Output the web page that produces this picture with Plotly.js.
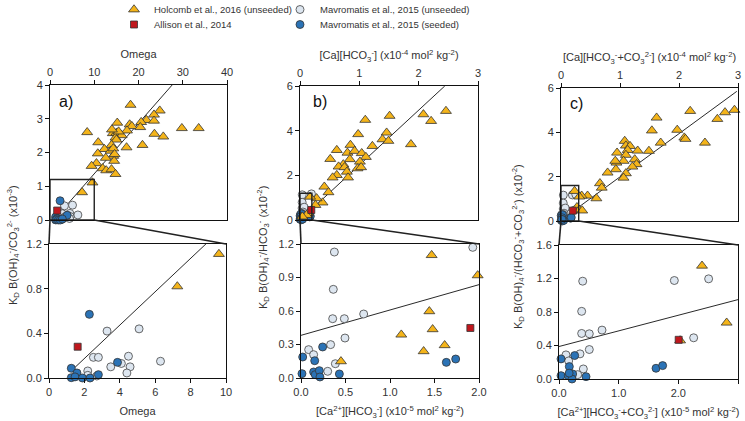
<!DOCTYPE html>
<html>
<head>
<meta charset="utf-8">
<script src="https://cdn.plot.ly/plotly-3.0.1.min.js"></script>
<style>
  html, body { margin: 0; padding: 0; background: #fff; }
  #chart { width: 745px; height: 421px; }
</style>
</head>
<body>
<div id="chart"></div>
<script>
// ---- a) Omega panel (same units top and bottom) ----
let holA_x = [18.2,24.8,23.5,21.8,23.5,20.6,15.2,18.0,18.5,20.4,29.8,33.6,8.4,14.2,15.0,16.2,17.4,14.8,23.6,25.6,15.0,10.9,13.9,17.3,20.9,12.3,13.7,14.3,10.8,14.3,12.6,14.5,10.5,14.6,9.4,11.9,12.7,13.9,14.8,15.5,14.0,9.6,7.25];
let holA_y = [3.41,3.24,3.12,2.96,2.94,2.90,2.88,2.83,2.78,2.75,2.72,2.72,2.60,2.57,2.58,2.51,2.65,2.44,2.55,2.47,2.38,2.30,2.22,2.15,2.22,2.10,2.05,2.12,1.97,1.90,1.84,1.75,1.68,1.95,1.60,1.53,1.47,1.50,1.36,2.62,2.68,1.11,0.82];
let mavUnA_x = [3.28,5.09,2.51,2.79,4.49,3.49,4.09,4.58,4.40,6.30,2.19,2.19,2.70];
let mavUnA_y = [0.42,0.44,0.185,0.185,0.195,0.10,0.13,0.10,0.045,0.15,0.063,0.024,0.018];
let mavSeA_x = [2.28,3.87,1.26,1.58,1.26,1.47,1.89,2.32,2.79];
let mavSeA_y = [0.57,0.14,0.087,0.045,0.003,0.01,0.0,0.0,0.03];
let allA_x = [1.62];
let allA_y = [0.28];
let fitA_x = [1.3, 27.6];
let fitA_y = [0.07, 4.0];

// ---- b) [Ca][HCO3-] panel: top x10^-4, bottom x10^-5 ----
let holB_x = [2.46,2.08,2.21,1.51,1.10,1.46,0.98,1.39,1.49,1.87,1.22,0.62,0.85,0.80,0.92,1.04,1.11,0.84,0.51,1.01,0.73,0.65,0.75,0.97,1.03,0.79,0.62,0.81,0.55,0.41,0.48,0.38,0.28,0.17,0.26,0.14,0.11,0.04];
let holB_y = [4.88,4.73,4.43,4.66,4.48,3.91,3.84,3.61,3.54,3.39,3.31,3.13,3.36,3.01,3.09,2.99,2.82,2.72,2.73,2.61,2.49,2.39,2.36,2.31,2.36,2.16,2.01,1.90,1.90,1.49,1.24,0.78,0.97,1.04,0.67,0.30,0.22,0.15];
let holBz_x = [0.449,1.468,1.985,1.442,1.479,1.127,1.378,1.614];
let holBz_y = [0.149,1.10,0.919,0.597,0.436,0.388,0.239,0.293];
let mavUnB_x = [0.375,0.363,0.356,0.487,0.704,0.494,0.333,0.086,0.142,0.386,0.30,1.93];
let mavUnB_y = [1.128,0.794,0.531,0.531,0.573,0.358,0.299,0.254,0.209,0.128,0.06,1.17];
let mavSeB_x = [0.019,0.243,0.154,0.011,0.142,0.16,0.206,0.213,0.431,1.633,1.738];
let mavSeB_y = [0.188,0.278,0.155,0.039,0.054,0.03,0.066,0.009,0.036,0.140,0.170];
let allB_x = [1.903];
let allB_y = [0.448];
let fitB_x = [0, 2.44];
let fitB_y = [0, 6.0];
let fitBz_x = [0, 2];
let fitBz_y = [0.382, 0.836];

// ---- c) [Ca][HCO3- + CO3 2-] panel ----
let holC_x = [2.94,2.78,2.65,2.19,1.62,1.54,1.97,2.09,2.11,2.44,1.69,1.49,1.08,1.10,1.17,1.13,1.30,0.95,1.10,1.25,1.06,0.94,0.92,1.28,1.21,0.93,0.79,1.10,1.06,0.66,0.69,0.60,0.45,0.35,0.23,0.31,0.27,0.31,0.36];
let holC_y = [5.01,4.90,4.60,4.96,4.66,4.08,4.11,3.76,3.70,3.53,3.53,3.16,3.61,3.40,3.38,3.20,3.17,3.08,2.98,2.78,2.71,2.63,2.71,2.56,2.45,2.33,2.18,2.15,1.95,1.70,1.50,1.02,1.14,1.14,1.35,1.10,0.62,0.50,0.47];
let holCz_x = [2.397,2.81,2.03];
let holCz_y = [1.352,0.672,0.46];
let mavUnC_x = [0.397,0.380,0.380,0.508,0.721,0.508,0.352,0.117,0.162,0.408,0.313,1.933,2.508,2.257];
let mavUnC_y = [1.168,0.808,0.544,0.54,0.584,0.352,0.30,0.288,0.216,0.12,0.052,1.176,1.196,0.492];
let mavSeC_x = [0.034,0.263,0.173,0.034,0.156,0.229,0.218,0.453,1.626,1.737,0.17];
let mavSeC_y = [0.24,0.28,0.148,0.04,0.04,0.06,0.0,0.028,0.128,0.16,0.07];
let allC_x = [2.006];
let allC_y = [0.468];
let fitC_x = [0.04, 2.98];
let fitC_y = [0.12, 5.85];
let fitCz_x = [0, 3];
let fitCz_y = [0.388, 0.948];

const W = 745, H = 421;
function px(x){ return x / W; }
function py(y){ return 1 - y / H; }
// bottom plots are in x10^-5, top plots in x10^-4
function toTop(arr){ return arr.map(v => v / 10); }

const FONT = 'Liberation Sans, Arial, sans-serif';
const TXT = '#333333';

let tri = {symbol: 'triangle-up', size: 9.5, color: '#F4B41A', line: {color: '#333', width: 0.8}};
let sq  = {symbol: 'square', size: 7, color: '#C0171D', line: {color: '#333', width: 0.8}};
let lc  = {symbol: 'circle', size: 8, color: '#DDE6F0', line: {color: '#444', width: 0.8}};
let bc  = {symbol: 'circle', size: 8, color: '#2B73B6', line: {color: '#333', width: 0.8}};

function pts(name, x, y, n, mk, leg){
    return {type: 'scatter', mode: 'markers', name: name, x: x, y: y,
        xaxis: 'x' + (n > 1 ? n : ''), yaxis: 'y' + (n > 1 ? n : ''),
        marker: mk, cliponaxis: false, hoverinfo: 'x+y',
        showlegend: !!leg, legend: leg || 'legend'};
}
function fit(x, y, n){
    return {type: 'scatter', mode: 'lines', x: x, y: y, showlegend: false,
        xaxis: 'x' + (n > 1 ? n : ''), yaxis: 'y' + (n > 1 ? n : ''),
        line: {color: '#111', width: 0.9}, hoverinfo: 'skip'};
}

const nHol = 'Holcomb et al., 2016 (unseeded)';
const nAll = 'Allison et al., 2014';
const nUn = 'Mavromatis et al., 2015 (unseeded)';
const nSe = 'Mavromatis et al., 2015 (seeded)';

let data = [
    // a top
    fit(fitA_x, fitA_y, 1),
    pts(nUn, mavUnA_x, mavUnA_y, 1, lc, 'legend2'),
    pts(nSe, mavSeA_x, mavSeA_y, 1, bc, 'legend4'),
    pts(nHol, holA_x, holA_y, 1, tri, 'legend'),
    pts(nAll, allA_x, allA_y, 1, sq, 'legend3'),
    // a bottom
    fit(fitA_x, fitA_y, 2),
    pts(nUn, mavUnA_x, mavUnA_y, 2, lc),
    pts(nSe, mavSeA_x, mavSeA_y, 2, bc),
    pts(nHol, holA_x, holA_y, 2, tri),
    pts(nAll, allA_x, allA_y, 2, sq),
    // b top
    fit(fitB_x, fitB_y, 3),
    pts(nUn, toTop(mavUnB_x), mavUnB_y, 3, lc),
    pts(nSe, toTop(mavSeB_x), mavSeB_y, 3, bc),
    pts(nHol, holB_x, holB_y, 3, tri),
    pts(nAll, toTop(allB_x), allB_y, 3, sq),
    // b bottom
    fit(fitBz_x, fitBz_y, 4),
    pts(nUn, mavUnB_x, mavUnB_y, 4, lc),
    pts(nSe, mavSeB_x, mavSeB_y, 4, bc),
    pts(nHol, holBz_x, holBz_y, 4, tri),
    pts(nAll, allB_x, allB_y, 4, sq),
    // c top
    fit(fitC_x, fitC_y, 5),
    pts(nUn, toTop(mavUnC_x), mavUnC_y, 5, lc),
    pts(nSe, toTop(mavSeC_x), mavSeC_y, 5, bc),
    pts(nHol, holC_x, holC_y, 5, tri),
    pts(nAll, toTop(allC_x), allC_y, 5, sq),
    // c bottom
    fit(fitCz_x, fitCz_y, 6),
    pts(nUn, mavUnC_x, mavUnC_y, 6, lc),
    pts(nSe, mavSeC_x, mavSeC_y, 6, bc),
    pts(nHol, holCz_x, holCz_y, 6, tri),
    pts(nAll, allC_x, allC_y, 6, sq)
];

function ax(domain, range, dtick, anchor, extra){
    let a = {domain: domain, range: range, dtick: dtick, tick0: 0, anchor: anchor,
        showgrid: false, zeroline: false, showline: true, mirror: true,
        linecolor: '#111', linewidth: 1, ticks: 'outside', ticklen: 4,
        tickcolor: '#111', tickfont: {family: FONT, size: 11, color: TXT},
        fixedrange: true, automargin: false};
    return Object.assign(a, extra || {});
}
function ttl(text, standoff){
    return {text: text, font: {family: FONT, size: 11, color: TXT}, standoff: standoff};
}

const xa1 = [px(50), px(227)],  ya1 = [py(220), py(85)];
const xa2 = [px(49), px(226)],  ya2 = [py(378), py(244)];
const xa3 = [px(300), px(478)], ya3 = [py(220), py(86)];
const xa4 = [px(301), px(479)], ya4 = [py(378), py(244)];
const xa5 = [px(561), px(738)], ya5 = [py(221), py(88)];
const xa6 = [px(559), px(738)], ya6 = [py(379), py(245)];

const topB = '[Ca][HCO<sub>3</sub><sup>-</sup>] (x10<sup>-4</sup> mol<sup>2</sup> kg<sup>-2</sup>)';
const topC = '[Ca][HCO<sub>3</sub><sup>-</sup>+CO<sub>3</sub><sup>2-</sup>] (x10<sup>-4</sup> mol<sup>2</sup> kg<sup>-2</sup>)';
const botB = '[Ca<sup>2+</sup>][HCO<sub>3</sub><sup>-</sup>] (x10<sup>-5</sup> mol<sup>2</sup> kg<sup>-2</sup>)';
const botC = '[Ca<sup>2+</sup>][HCO<sub>3</sub><sup>-</sup>+CO<sub>3</sub><sup>2-</sup>] (x10<sup>-5</sup> mol<sup>2</sup> kg<sup>-2</sup>)';

function connectors(xt, yt, xb, yb, frac){
    let xr = xt[0] + frac * (xt[1] - xt[0]);
    let l = {color: '#222', width: 1.6};
    return [
        {type: 'line', xref: 'paper', yref: 'paper', x0: xt[0], y0: yt[0], x1: xb[0], y1: yb[1], line: l},
        {type: 'line', xref: 'paper', yref: 'paper', x0: xr, y0: yt[0], x1: xb[1], y1: yb[1], line: l}
    ];
}
let boxLine = {color: '#222', width: 1.4};

let yTitleA = 'K<sub>D</sub> B(OH)<sub>4</sub><sup>-</sup>/CO<sub>3</sub><sup>2-</sup> (x10<sup>-3</sup>)';
let yTitleB = 'K<sub>D</sub> B(OH)<sub>4</sub><sup>-</sup>/HCO<sub>3</sub><sup>-</sup> (x10<sup>-2</sup>)';
let yTitleC = 'K<sub>D</sub> B(OH)<sub>4</sub><sup>-</sup>/(HCO<sub>3</sub><sup>-</sup>+CO<sub>3</sub><sup>2-</sup>) (x10<sup>-2</sup>)';

function yAnn(text, x, y){
    return {text: text, xref: 'paper', yref: 'paper', x: px(x), y: py(y), textangle: -90,
        showarrow: false, xanchor: 'center', yanchor: 'middle',
        font: {family: FONT, size: 11, color: TXT}};
}
function panelAnn(text, x, y){
    return {text: text, xref: 'paper', yref: 'paper', x: px(x), y: py(y),
        showarrow: false, xanchor: 'left', yanchor: 'middle',
        font: {family: FONT, size: 16, color: '#111'}};
}

let legFont = {family: 'Liberation Sans Narrow, Arial Narrow, Liberation Sans, sans-serif', size: 9.5, color: TXT};
function leg(x, y){
    return {x: px(x), y: py(y), xanchor: 'left', yanchor: 'top', orientation: 'v',
        font: legFont, bgcolor: 'rgba(0,0,0,0)', borderwidth: 0};
}

var layout = {
    width: W, height: H,
    margin: {l: 0, r: 0, t: 0, b: 0, pad: 0, autoexpand: false},
    paper_bgcolor: '#fff', plot_bgcolor: '#fff',
    font: {family: FONT, size: 11, color: TXT},
    showlegend: true,
    legend:  leg(114, -5),
    legend3: leg(114, 10),
    legend2: leg(280, -5),
    legend4: leg(280, 10),
    xaxis:  ax(xa1, [0, 40], 10, 'y',  {side: 'top', title: ttl('Omega', 4)}),
    yaxis:  ax(ya1, [0, 4], 1, 'x'),
    xaxis2: ax(xa2, [0, 10], 2, 'y2', {title: ttl('Omega', 10)}),
    yaxis2: ax(ya2, [0, 1.2], 0.4, 'x2', {tickformat: '.1f'}),
    xaxis3: ax(xa3, [0, 3], 1, 'y3', {side: 'top', title: ttl(topB, 4)}),
    yaxis3: ax(ya3, [0, 6], 2, 'x3'),
    xaxis4: ax(xa4, [0, 2], 0.5, 'y4', {tickformat: '.1f', title: ttl(botB, 10)}),
    yaxis4: ax(ya4, [0, 1.2], 0.3, 'x4', {tickformat: '.1f'}),
    xaxis5: ax(xa5, [0, 3], 1, 'y5', {side: 'top', title: ttl(topC, 4)}),
    yaxis5: ax(ya5, [0, 6], 2, 'x5'),
    xaxis6: ax(xa6, [0, 3], 1, 'y6', {tickformat: '.1f', title: ttl(botC, 10)}),
    yaxis6: ax(ya6, [0, 1.6], 0.4, 'x6', {tickformat: '.1f'}),
    shapes: [
        {type: 'rect', xref: 'x',  yref: 'y',  x0: 0, x1: 10,  y0: 0, y1: 1.2, line: boxLine},
        {type: 'rect', xref: 'x3', yref: 'y3', x0: 0, x1: 0.2, y0: 0, y1: 1.2, line: boxLine},
        {type: 'rect', xref: 'x5', yref: 'y5', x0: 0, x1: 0.3, y0: 0, y1: 1.6, line: boxLine}
    ].concat(connectors(xa1, ya1, xa2, ya2, 10 / 40))
     .concat(connectors(xa3, ya3, xa4, ya4, 0.2 / 3))
     .concat(connectors(xa5, ya5, xa6, ya6, 0.3 / 3)),
    annotations: [
        yAnn(yTitleA, 13, 245),
        yAnn(yTitleB, 263, 248),
        yAnn(yTitleC, 518, 247),
        panelAnn('a)', 57, 101),
        panelAnn('b)', 311, 101),
        panelAnn('c)', 568, 103)
    ]
};

Plotly.newPlot('chart', data, layout, {displayModeBar: false, staticPlot: true});
</script>
</body>
</html>
